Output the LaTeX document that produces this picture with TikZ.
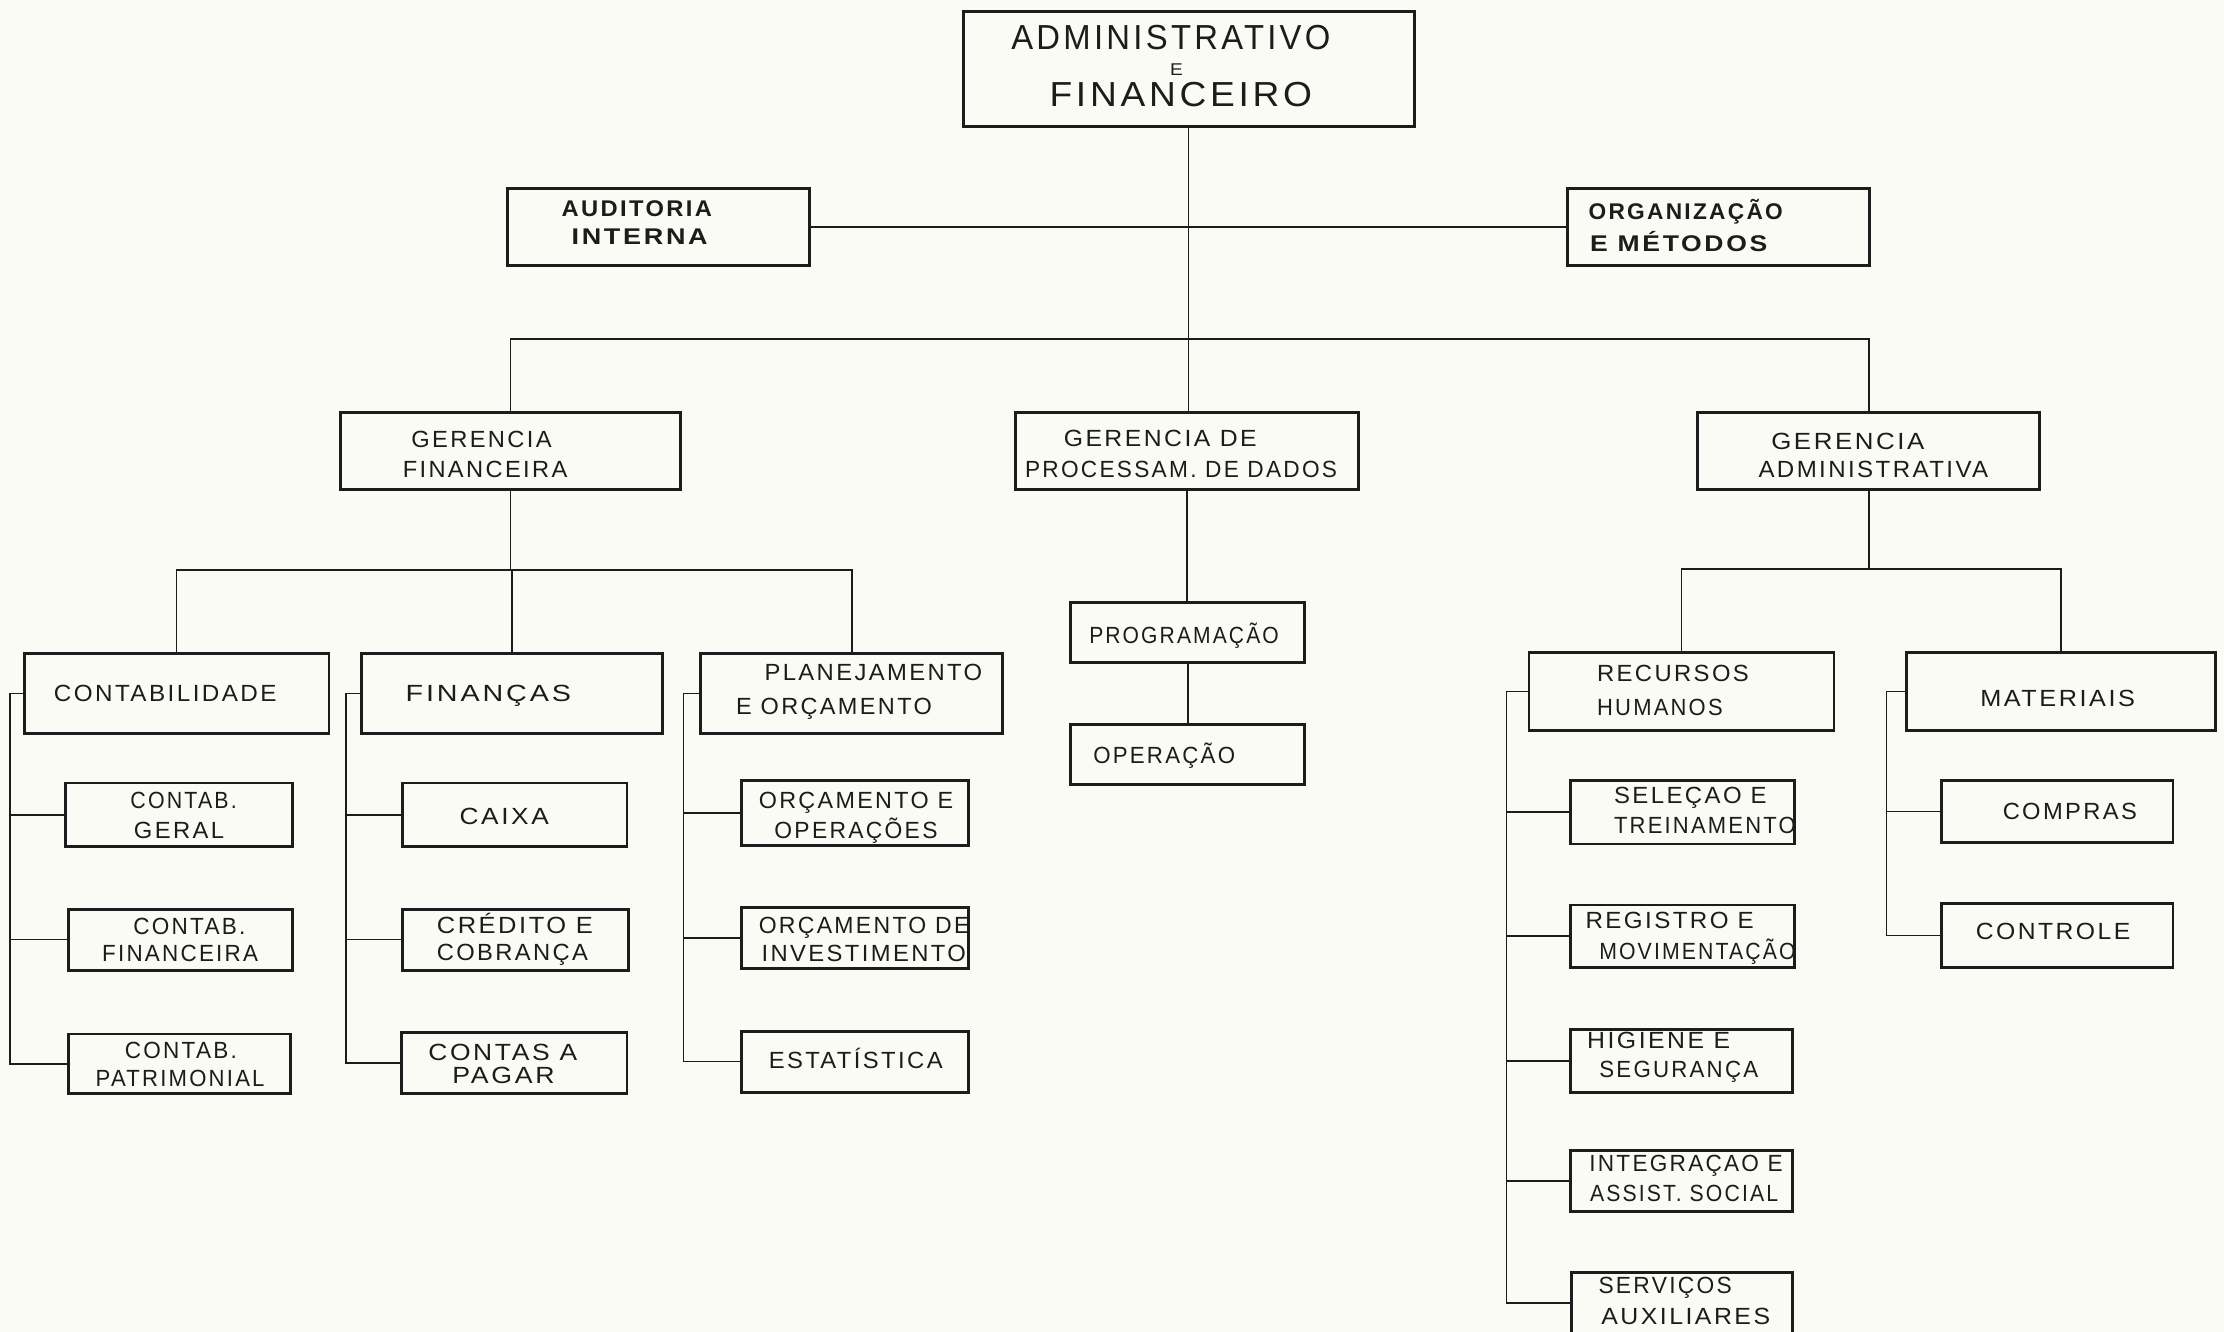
\documentclass[tikz,border=0pt]{standalone}
\usepackage{fontspec}
\usepackage{graphicx}
\setmainfont{Liberation Sans}
\newfontfamily\lt[LetterSpace=10]{Liberation Sans}
\definecolor{paper}{RGB}{251,251,245}
\definecolor{ink}{RGB}{28,28,28}
\newcommand\fitw[2]{\setbox0=\hbox{#2}\pgfmathsetmacro\myfitsc{#1/\the\wd0}\scalebox{\myfitsc}[1]{\box0}}
\newcommand\tline[6][]{\node[lbl,#1] (#2) at (#3,#4) {\fitw{#5}{#6}};}
\newcommand\orgbox[5]{\node[obox,minimum width=#4pt,minimum height=#5pt] (#1) at (#2,#3) {};}
\begin{document}
\begin{tikzpicture}[x=1pt,y=-1pt,
  obox/.style={draw=ink,line width=2pt,inner sep=0pt},
  lbl/.style={anchor=base,inner sep=0pt,text=ink,font=\lt\fontsize{16.5}{16.5}\selectfont},
  bld/.style={font=\lt\bfseries\fontsize{16}{16}\selectfont},
  big/.style={font=\lt\fontsize{24.5}{24.5}\selectfont},
  conn/.style={draw=ink,line width=1.1pt}]
\fill[paper] (0,0) rectangle (1568,939);
\useasboundingbox (0,0) rectangle (1568,939);
% boxes
\orgbox{top}{838}{48.5}{318}{81}
\orgbox{aud}{464.5}{160}{213}{54}
\orgbox{org}{1211.5}{160}{213}{54}
\orgbox{gf}{360}{318}{240}{54}
\orgbox{gpd}{837}{318}{242}{54}
\orgbox{ga}{1317.5}{318}{241}{54}
\orgbox{cont}{124.5}{489}{215}{56}
\orgbox{fin}{361}{489}{212}{56}
\orgbox{plan}{600.5}{489}{213}{56}
\orgbox{cg}{126}{574.5}{160}{45}
\orgbox{cf}{127}{662.5}{158}{43}
\orgbox{cp}{126.5}{750}{157}{42}
\orgbox{caixa}{363}{574.5}{158}{45}
\orgbox{cred}{363.5}{662.5}{159}{43}
\orgbox{cap}{362.5}{749.5}{159}{43}
\orgbox{oo}{603}{573}{160}{46}
\orgbox{oi}{603}{661.5}{160}{43}
\orgbox{est}{603}{748.5}{160}{43}
\orgbox{prog}{837.5}{446}{165}{42}
\orgbox{oper}{837.5}{532}{165}{42}
\orgbox{rh}{1185.5}{487.5}{215}{55}
\orgbox{mat}{1453}{487.5}{218}{55}
\orgbox{st}{1186}{572.5}{158}{45}
\orgbox{rm}{1186}{660}{158}{44}
\orgbox{hs}{1185.5}{748}{157}{44}
\orgbox{ia}{1185.5}{832.5}{157}{43}
\orgbox{sa}{1186}{918.5}{156}{43}
\orgbox{comp}{1450.5}{572}{163}{44}
\orgbox{ctrl}{1450.5}{659.5}{163}{45}
% connectors
\coordinate (bus1) at (0,239);
\coordinate (bus2) at (0,402);
\coordinate (bus3) at (0,401);
\draw[conn] (top.south) -- (top.south |- gpd.north);
\draw[conn] (aud.east) -- (org.west);
\draw[conn] (gf.north) -- (gf.north |- bus1) -- (ga.north |- bus1) -- (ga.north);
\draw[conn] (gf.south) -- (gf.south |- bus2);
\draw[conn] (cont.north) -- (cont.north |- bus2) -- (plan.north |- bus2) -- (plan.north);
\draw[conn] (fin.north) -- (fin.north |- bus2);
\coordinate (s1) at ([xshift=-9pt]cont.west);
\draw[conn] (cont.west) -- (s1) -- (s1 |- cp.west) -- (cp.west);
\draw[conn] (s1 |- cg.west) -- (cg.west);
\draw[conn] (s1 |- cf.west) -- (cf.west);
\coordinate (s2) at ([xshift=-10pt]fin.west);
\draw[conn] (fin.west) -- (s2) -- (s2 |- cap.west) -- (cap.west);
\draw[conn] (s2 |- caixa.west) -- (caixa.west);
\draw[conn] (s2 |- cred.west) -- (cred.west);
\coordinate (s3) at ([xshift=-11pt]plan.west);
\draw[conn] (plan.west) -- (s3) -- (s3 |- est.west) -- (est.west);
\draw[conn] (s3 |- oo.west) -- (oo.west);
\draw[conn] (s3 |- oi.west) -- (oi.west);
\draw[conn] (gpd.south) -- (gpd.south |- prog.north);
\draw[conn] (prog.south) -- (oper.north);
\draw[conn] (ga.south) -- (ga.south |- bus3);
\draw[conn] (rh.north) -- (rh.north |- bus3) -- (mat.north |- bus3) -- (mat.north);
\coordinate (s4) at ([xshift=-15pt]rh.west);
\draw[conn] (rh.west) -- (s4) -- (s4 |- sa.west) -- (sa.west);
\draw[conn] (s4 |- st.west) -- (st.west);
\draw[conn] (s4 |- rm.west) -- (rm.west);
\draw[conn] (s4 |- hs.west) -- (hs.west);
\draw[conn] (s4 |- ia.west) -- (ia.west);
\coordinate (s5) at ([xshift=-13pt]mat.west);
\draw[conn] (mat.west) -- (s5) -- (s5 |- ctrl.west) -- (ctrl.west);
\draw[conn] (s5 |- comp.west) -- (comp.west);
% texts
\tline[big]{t1}{825.5}{35}{225}{ADMINISTRATIVO}
\tline[font=\lt\fontsize{12}{12}\selectfont]{t2}{829.5}{53}{9}{E}
\tline[big]{t3}{832.5}{75}{185}{FINANCEIRO}
\tline[bld]{a1}{449}{152.8}{106}{AUDITORIA}
\tline[bld]{a2}{451}{172.7}{96}{INTERNA}
\tline[bld]{o1}{1188.5}{155}{137}{ORGANIZAÇÃO}
\tline[bld]{o2}{1183.5}{177.4}{125}{E MÉTODOS}
\tline{g1}{339.5}{315.4}{99}{GERENCIA}
\tline{g2}{342}{336.5}{116}{FINANCEIRA}
\tline{p1}{818}{315}{136}{GERENCIA DE}
\tline{p2}{832.7}{336.5}{220}{PROCESSAM. DE DADOS}
\tline{m1}{1302.8}{317}{108}{GERENCIA}
\tline{m2}{1320.8}{337}{162}{ADMINISTRATIVA}
\tline{c3a}{116.5}{494.7}{157}{CONTABILIDADE}
\tline{f3a}{344.3}{494.7}{116.5}{FINANÇAS}
\tline{pl1}{615.8}{479.5}{153.5}{PLANEJAMENTO}
\tline{pl2}{588}{504}{138}{E ORÇAMENTO}
\tline{rh1}{1179.5}{480.6}{107}{RECURSOS}
\tline{rh2}{1170.3}{504.8}{88.5}{HUMANOS}
\tline{mt1}{1450.7}{498.2}{109}{MATERIAIS}
\tline{cg1}{129.5}{570}{75}{CONTAB.}
\tline{cg2}{126.2}{591}{63.6}{GERAL}
\tline{cf1}{133.5}{659}{79}{CONTAB.}
\tline{cf2}{127}{678}{110}{FINANCEIRA}
\tline{cp1}{127.5}{746}{79}{CONTAB.}
\tline{cp2}{127}{766}{119}{PATRIMONIAL}
\tline{cx1}{355.5}{581.6}{63}{CAIXA}
\tline{cr1}{363}{658}{110}{CRÉDITO E}
\tline{cr2}{361.3}{677.5}{106.6}{COBRANÇA}
\tline{ca1}{354.5}{747.4}{105}{CONTAS A}
\tline{ca2}{355}{763.8}{72}{PAGAR}
\tline{oo1}{603.5}{570}{137}{ORÇAMENTO E}
\tline{oo2}{603.5}{591}{115}{OPERAÇÕES}
\tline{oi1}{609.2}{658}{148.5}{ORÇAMENTO DE}
\tline{oi2}{609}{678}{144}{INVESTIMENTO}
\tline{es1}{603.3}{753}{122.6}{ESTATÍSTICA}
\tline{pr1}{834.8}{453.6}{133.7}{PROGRAMAÇÃO}
\tline{op1}{820.8}{538.2}{100}{OPERAÇÃO}
\tline{st1}{1191.8}{566.4}{107.6}{SELEÇAO E}
\tline{st2}{1202}{587.3}{128}{TREINAMENTO}
\tline{rm1}{1177.2}{654.4}{118.6}{REGISTRO E}
\tline{rm2}{1196.8}{676.8}{138.5}{MOVIMENTAÇÃO}
\tline{hs1}{1169.4}{739}{100.7}{HIGIENE E}
\tline{hs2}{1183.6}{760}{112}{SEGURANÇA}
\tline{ia1}{1188.7}{826}{136.3}{INTEGRAÇAO E}
\tline{ia2}{1187.3}{847.2}{132.6}{ASSIST. SOCIAL}
\tline{sa1}{1174}{911.8}{94}{SERVIÇOS}
\tline{sa2}{1188.5}{934}{119}{AUXILIARES}
\tline{co1}{1459.3}{578}{94.6}{COMPRAS}
\tline{ct1}{1447.5}{662.7}{109}{CONTROLE}
\end{tikzpicture}
\end{document}
